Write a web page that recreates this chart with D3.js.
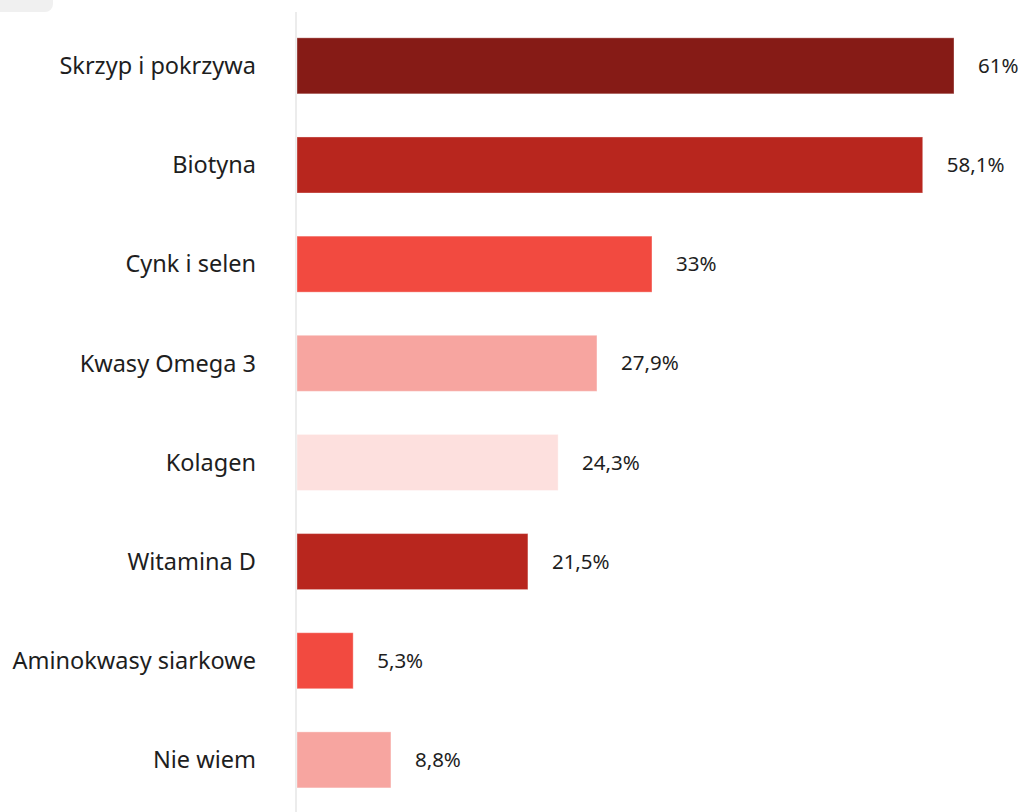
<!DOCTYPE html>
<html>
<head>
<meta charset="utf-8">
<script src="https://cdn.jsdelivr.net/npm/d3@7"></script>
<style>
  body { margin: 0; background: #fff; }
  text { font-family: "Noto Sans", sans-serif; fill: #1e1e1e; }
</style>
</head>
<body>
<div class="canvas"></div>
<script>
// Data
const categories = ["Skrzyp i pokrzywa", "Biotyna", "Cynk i selen", "Kwasy Omega 3",
                    "Kolagen", "Witamina D", "Aminokwasy siarkowe", "Nie wiem"];
const values = [61, 58.1, 33, 27.9, 24.3, 21.5, 5.3, 8.8];
const valueLabels = ["61%", "58,1%", "33%", "27,9%", "24,3%", "21,5%", "5,3%", "8,8%"];
const barColors = ["#861b16", "#b8261e", "#f24a40", "#f7a5a0",
                   "#fde0de", "#b8261e", "#f24a40", "#f7a5a0"];

const width = 1023, height = 812;
const margin = { top: 18, left: 296, right: 69, bottom: 0 };
const step = 99.15;

const svg = d3.select(".canvas")
  .append("svg")
    .attr("width", width)
    .attr("height", height);

// grey tab at top-left
svg.append("rect")
  .attr("x", -10).attr("y", -10)
  .attr("width", 63).attr("height", 22)
  .attr("rx", 8)
  .attr("fill", "#f0f0f0");

const x = d3.scaleLinear()
  .domain([0, 61])
  .range([margin.left, width - margin.right]);

const y = d3.scaleBand()
  .domain(categories)
  .range([margin.top, margin.top + step * (categories.length - 0.435 + 0.4)])
  .paddingInner(0.435)
  .paddingOuter(0.2);

// baseline
svg.append("line")
  .attr("x1", x(0)).attr("x2", x(0))
  .attr("y1", 12).attr("y2", height)
  .attr("stroke", "#ececec")
  .attr("stroke-width", 2);

svg.selectAll(".bar")
  .data(values)
  .join("rect")
    .attr("class", "bar")
    .attr("x", x(0) + 1)
    .attr("y", (d, i) => y(categories[i]))
    .attr("width", d => x(d) - x(0) - 1)
    .attr("height", y.bandwidth())
    .attr("fill", (d, i) => barColors[i])
    .attr("stroke", "#fff")
    .attr("stroke-opacity", 0.35)
    .attr("stroke-width", 1);

svg.selectAll(".cat")
  .data(categories)
  .join("text")
    .attr("class", "cat")
    .attr("x", 256)
    .attr("y", d => y(d) + y.bandwidth() / 2)
    .attr("dy", "0.35em")
    .attr("text-anchor", "end")
    .style("font-size", "23.5px")
    .text(d => d);

svg.selectAll(".val")
  .data(values)
  .join("text")
    .attr("class", "val")
    .attr("x", d => x(d) + 24)
    .attr("y", (d, i) => y(categories[i]) + y.bandwidth() / 2)
    .attr("dy", "0.35em")
    .style("font-size", "20.5px")
    .text((d, i) => valueLabels[i]);
</script>
</body>
</html>
